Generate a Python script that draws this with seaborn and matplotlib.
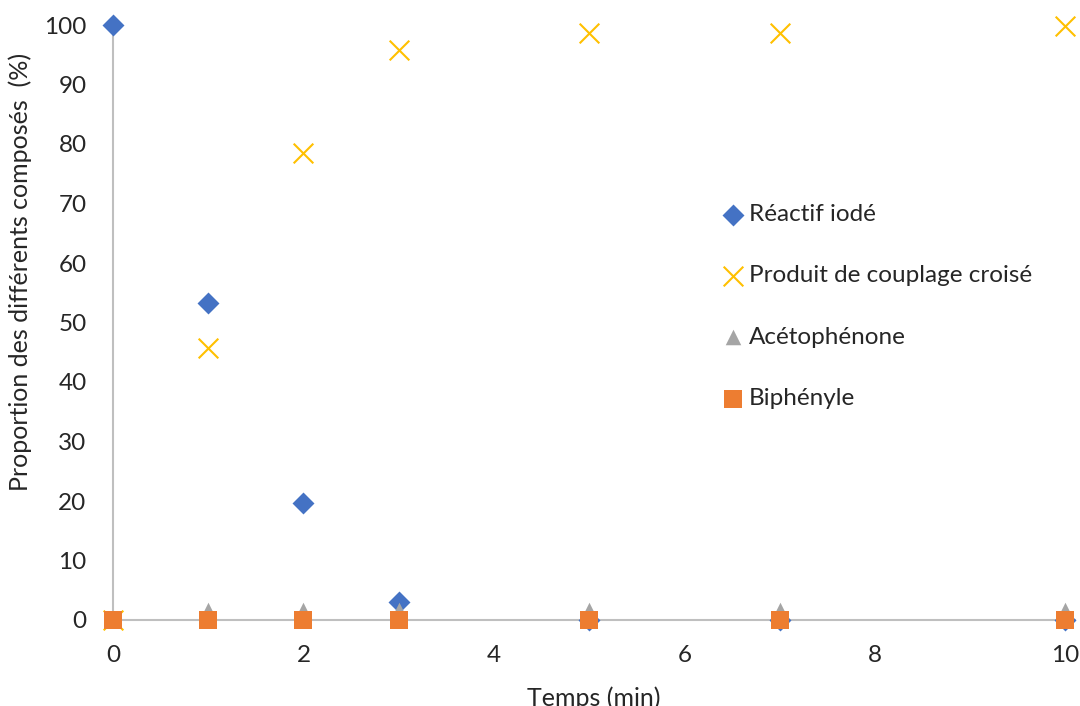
import matplotlib
matplotlib.use("Agg")
import matplotlib.pyplot as plt
import seaborn as sns
import pandas as pd

temps = [0, 1, 2, 3, 5, 7, 10]
reactif_iode = [100, 53.3, 19.6, 3.1, 0, 0, 0]
produit_couplage = [0, 45.7, 78.5, 95.8, 98.7, 98.7, 99.8]
acetophenone = [0, 1.6, 1.6, 1.6, 1.6, 1.6, 1.6]
biphenyle = [0, 0, 0, 0, 0, 0, 0]

labels = ["Réactif iodé", "Produit de couplage croisé", "Acétophénone", "Biphényle"]
series = [reactif_iode, produit_couplage, acetophenone, biphenyle]
colors = ["#4472C4", "#FFC000", "#A5A5A5", "#ED7D31"]
markers = ["D", "x", "^", "s"]
sizes = [125, 200, 125, 165]

sns.set_theme(style="white")
plt.rcParams["font.family"] = ["Lato", "DejaVu Sans"]

TXT = "#262626"
fig = plt.figure(figsize=(10.8, 7.06), dpi=100)
ax = fig.add_axes([113 / 1080, 1 - 620 / 706, 962 / 1080, 595 / 706])

for lab, vals, c, m, s in zip(labels, series, colors, markers, sizes):
    df = pd.DataFrame({"Temps": temps, "val": vals})
    kw = dict(linewidth=1.5) if m == "x" else dict(linewidth=0)
    sns.scatterplot(data=df, x="Temps", y="val", ax=ax, color=c, marker=m,
                    s=s, label=lab, clip_on=False, zorder=3, **kw)

ax.set_xlim(0, 10.1)
ax.set_ylim(0, 100)
ax.set_xticks([0, 2, 4, 6, 8, 10])
ax.set_yticks(range(0, 101, 10))
for sp in ["top", "right"]:
    ax.spines[sp].set_visible(False)
for sp in ["left", "bottom"]:
    ax.spines[sp].set_color("#BFBFBF")
    ax.spines[sp].set_linewidth(1.5)
ax.tick_params(axis="both", length=0, labelsize=17.5, colors=TXT)
ax.tick_params(axis="x", pad=18)
ax.tick_params(axis="y", pad=19)
ax.set_xlabel("Temps (min)", fontsize=18, color=TXT, labelpad=15)
ax.set_ylabel("Proportion des différents composés  (%)", fontsize=18, color=TXT, labelpad=9)
ax.yaxis.label.set_y(0.585)

leg = ax.legend(loc="upper left", bbox_to_anchor=(699 / 1080, 1 - 182 / 706),
                bbox_transform=fig.transFigure, frameon=False, fontsize=17.5,
                labelspacing=1.66, handletextpad=0.15, handlelength=1.0,
                markerscale=1.0)
for t in leg.get_texts():
    t.set_color(TXT)

fig.savefig("out.png", dpi=100)
